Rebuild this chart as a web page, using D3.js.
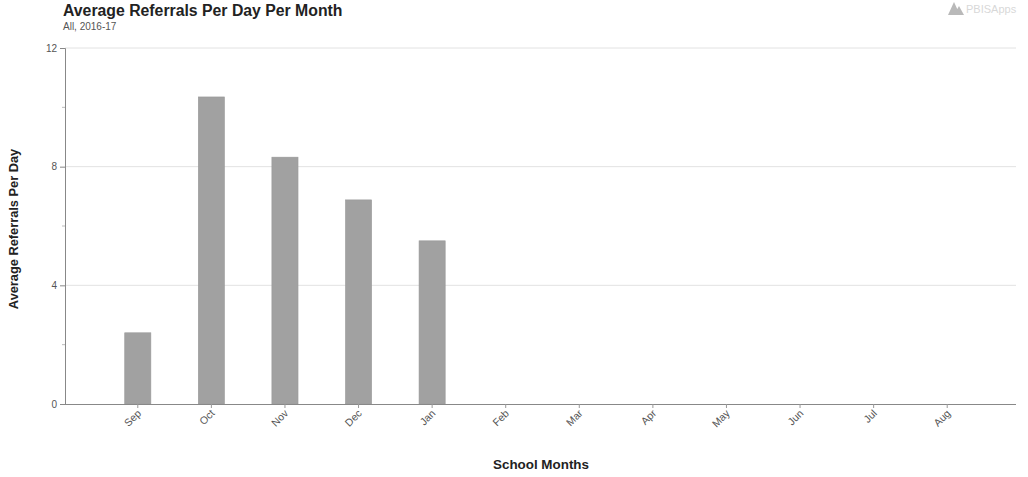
<!DOCTYPE html>
<html><head><meta charset="utf-8">
<script src="https://cdn.jsdelivr.net/npm/d3@7"></script>
<style>body{margin:0;background:#fff;}svg{display:block;font-family:"Liberation Sans",Arial,sans-serif;}</style>
</head><body><svg id="c" width="1028" height="477"></svg>
<script>
const months = ["Sep","Oct","Nov","Dec","Jan","Feb","Mar","Apr","May","Jun","Jul","Aug"];
const values = [2.4, 10.35, 8.32, 6.88, 5.5, null, null, null, null, null, null, null];
const yTicks = [0, 4, 8, 12];
const yMinorTicks = [2, 6, 10];

const svg = d3.select("#c");
const x = d3.scaleBand().domain(months).range([101, 984]).paddingInner(0.645).paddingOuter(0.3225);
const y = d3.scaleLinear().domain([0, 12]).range([404, 48]);

// title
svg.append("text").attr("x", 63).attr("y", 16).attr("font-size", 15.8).attr("font-weight", "bold").attr("fill", "#222").text("Average Referrals Per Day Per Month");
svg.append("text").attr("x", 63).attr("y", 30).attr("font-size", 10).attr("fill", "#555").text("All, 2016-17");

// logo
const logo = svg.append("g").attr("transform", "translate(948,2)").attr("opacity", 0.45);
logo.append("path").attr("d", "M0,13 L6,0 L12,13 Z M6,13 L11,4 L16,13 Z").attr("fill", "#666");
logo.append("text").attr("x", 18).attr("y", 11).attr("font-size", 11).attr("fill", "#aaa").text("PBISApps");

// gridlines
svg.append("g").selectAll("line").data(yTicks.filter(d => d > 0)).join("line")
  .attr("x1", 65).attr("x2", 1016).attr("y1", d => y(d)).attr("y2", d => y(d))
  .attr("stroke", "#e2e2e2").attr("stroke-width", 1);

// bars
svg.append("g").selectAll("rect").data(months.map((m, i) => ({m, v: values[i]})).filter(d => d.v != null)).join("rect")
  .attr("x", d => x(d.m)).attr("width", x.bandwidth())
  .attr("y", d => y(d.v)).attr("height", d => y(0) - y(d.v))
  .attr("fill", "#a1a1a1").attr("stroke", "#999").attr("stroke-width", 0.6);

// y axis
const ya = svg.append("g").attr("transform", "translate(65,0)")
  .call(d3.axisLeft(y).tickValues(yTicks).tickSize(5).tickFormat(d3.format("d")));
ya.select(".domain").attr("stroke", "#888");
ya.selectAll(".tick line").attr("stroke", "#888");
ya.selectAll("text").attr("font-size", 10).attr("fill", "#555").attr("font-family", "Liberation Sans, Arial, sans-serif");
svg.append("g").selectAll("line").data(yMinorTicks).join("line")
  .attr("x1", 62).attr("x2", 65).attr("y1", d => y(d)).attr("y2", d => y(d)).attr("stroke", "#bbb");

// x axis
const xa = svg.append("g").attr("transform", "translate(0,404)")
  .call(d3.axisBottom(x).tickSize(4).tickSizeOuter(0));
xa.select(".domain").attr("d", "M65,0.5H1016").attr("stroke", "#888");
xa.selectAll(".tick line").attr("stroke", "#999");
xa.selectAll("text").attr("font-size", 10.5).attr("fill", "#555").attr("font-family", "Liberation Sans, Arial, sans-serif")
  .attr("text-anchor", "end").attr("dy", 0).attr("y", 0)
  .attr("transform", "translate(4,10) rotate(-45)");

// axis titles
svg.append("text").attr("transform", "translate(18,229) rotate(-90)").attr("text-anchor", "middle")
  .attr("font-size", 12.8).attr("font-weight", "bold").attr("fill", "#222").text("Average Referrals Per Day");
svg.append("text").attr("x", 541).attr("y", 469).attr("text-anchor", "middle")
  .attr("font-size", 13.4).attr("font-weight", "bold").attr("fill", "#222").text("School Months");
</script></body></html>
